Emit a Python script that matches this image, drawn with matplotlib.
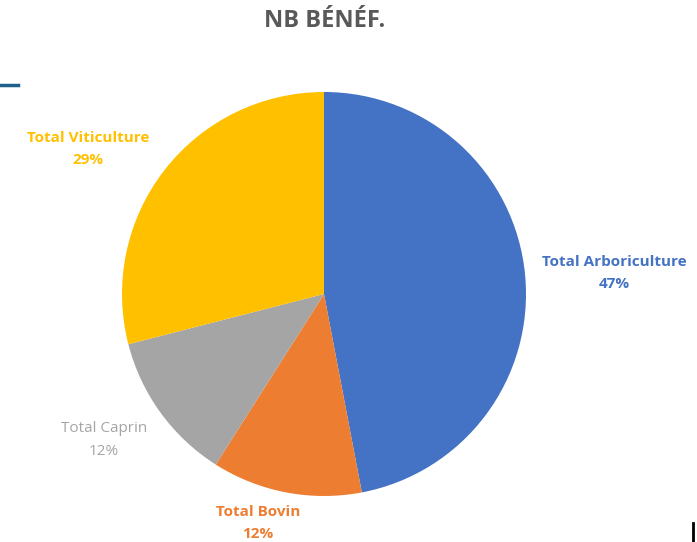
import numpy as np
import matplotlib.pyplot as plt
from matplotlib.lines import Line2D

plt.rcParams['font.family'] = ['Open Sans', 'DejaVu Sans']

# --- data ---
categories = ['Total Arboriculture', 'Total Bovin', 'Total Caprin', 'Total Viticulture']
shares = [47, 12, 12, 29]
colors = ['#4472C4', '#ED7D31', '#A5A5A5', '#FFC000']
weights = ['bold', 'bold', 'normal', 'bold']
# label block centres (pixels, y from top)
label_pos = [(614, 273), (258, 523), (104, 440), (88, 149)]

W, H = 697, 542
fig = plt.figure(figsize=(W / 100, H / 100), dpi=100)
ax = fig.add_axes([0, 0, 1, 1])

ax.pie(shares, colors=colors, startangle=90, counterclock=False,
       center=(324, H - 294), radius=202,
       wedgeprops=dict(linewidth=0))

# pie() resets the limits, so set them afterwards
ax.set_xlim(0, W)
ax.set_ylim(0, H)
ax.set_aspect('equal')
ax.axis('off')

for name, val, col, wt, (x, y) in zip(categories, shares, colors, weights, label_pos):
    ax.text(x, H - y, f'{name}\n{val}%', color=col, fontsize=11, fontweight=wt,
            ha='center', va='center', linespacing=1.65)

fig.text(325 / W, 1 - 21 / H, 'NB BÉNÉF.', color='#595959', fontsize=17,
         fontweight='bold', ha='center', va='center')

# screenshot edge marks
fig.add_artist(Line2D([0, 18 / W], [1 - 84.5 / H] * 2, color='#1F5F8B', lw=2.5,
                      transform=fig.transFigure))
fig.add_artist(Line2D([693 / W] * 2, [0, 1 - 523 / H], color='black', lw=2,
                      transform=fig.transFigure))

fig.savefig('out.png', dpi=100)
